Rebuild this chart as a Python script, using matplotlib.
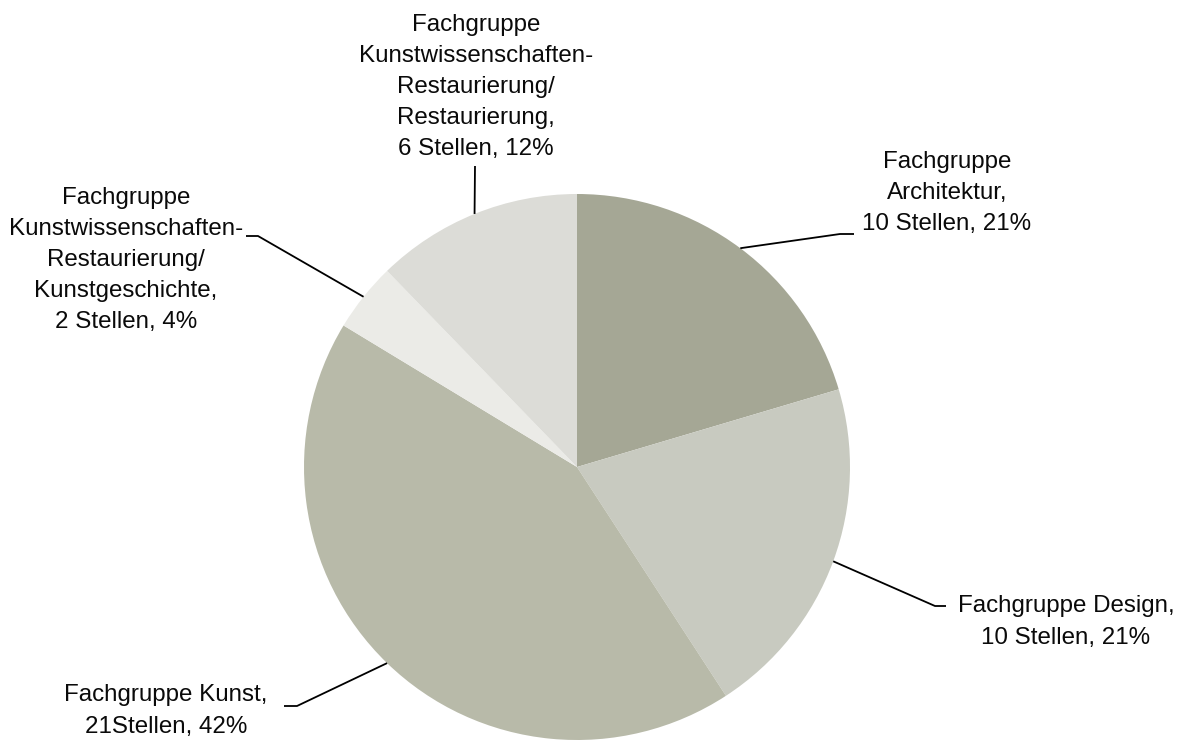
import matplotlib.pyplot as plt
import numpy as np

plt.rcParams['font.family'] = ['Liberation Sans', 'DejaVu Sans']

# data
labels = ['Fachgruppe\nArchitektur,\n10 Stellen, 21%',
          'Fachgruppe Design,\n10 Stellen, 21%',
          'Fachgruppe Kunst,\n21Stellen, 42%',
          'Fachgruppe\nKunstwissenschaften-\nRestaurierung/\nKunstgeschichte,\n2 Stellen, 4%',
          'Fachgruppe\nKunstwissenschaften-\nRestaurierung/\nRestaurierung,\n6 Stellen, 12%']
stellen = [10, 10, 21, 2, 6]
colors = ['#a5a795', '#c8cac0', '#b8baa9', '#ebebe7', '#dcdcd7']

W, H = 1192, 743
fig = plt.figure(figsize=(W / 100, H / 100), dpi=100)
ax = fig.add_axes([0, 0, 1, 1])

cx, cy, r = 577, H - 467, 273
wedges, _ = ax.pie(stellen, colors=colors, startangle=90, counterclock=False,
                   center=(cx, cy), radius=r, frame=True)
ax.set_xlim(0, W)
ax.set_ylim(0, H)
ax.set_aspect('equal')
ax.axis('off')

# leader elbows (knee, end) and text centre, in image pixel coords
elbows = [((840, 234), (854, 234)),
          ((935, 606), (946, 606)),
          ((297, 706), (284, 706)),
          ((258, 236), (246, 236)),
          ((475, 166), (475, 166))]
text_pos = [(947, 193),
            (1066, 622),
            (166, 711),
            (126, 260),
            (476, 87)]

for w, (knee, end), (tx, ty), lab in zip(wedges, elbows, text_pos, labels):
    mid = np.deg2rad((w.theta1 + w.theta2) / 2)
    sx, sy = cx + r * np.cos(mid), cy + r * np.sin(mid)
    ax.plot([sx, knee[0], end[0]], [sy, H - knee[1], H - end[1]],
            color='black', lw=1.3, solid_capstyle='butt')
    ax.text(tx, H - ty, lab, ha='center', va='center', fontsize=17.4,
            linespacing=1.53, color='#0a0a0a')

fig.savefig('out.png', dpi=100)
